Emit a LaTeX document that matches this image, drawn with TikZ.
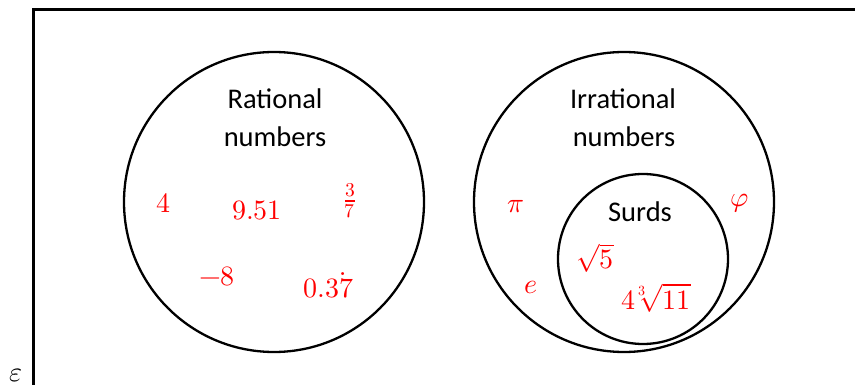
\documentclass[tikz,border=0pt]{standalone}
\usepackage{unicode-math}
\setmainfont{Carlito}
\setmathfont{Latin Modern Math}
\begin{document}
\begin{tikzpicture}[x=1pt,y=-1pt,
  lab/.style={font=\fontsize{28.5}{34}\selectfont, inner sep=0pt, anchor=base},
  num/.style={text=red, font=\fontsize{28}{34}\selectfont, inner sep=0pt, anchor=base},
  ring/.style={circle, draw, line width=2.3pt, inner sep=0pt}]
\useasboundingbox (0,0) rectangle (855,385);
\clip (0,0) rectangle (855,385);
% universal set frame (cut by the picture's right and bottom edges)
\draw[line width=2.7pt] (33.7,9.3) rectangle (900,430);
\node[num, text=black] (eps) at (16,381) {$\varepsilon$};
% sets
\node[ring, minimum size=300pt] (rat) at (274,202) {};
\node[ring, minimum size=300pt] (irr) at (624,202) {};
\node[ring, minimum size=170pt] (surd) at (643,259) {};
% set labels
\node[lab] (ratA) at (275,109) {Rational};
\node[lab] (ratB) at (275,147) {numbers};
\node[lab] (irrA) at (623,109) {Irrational};
\node[lab] (irrB) at (624,147) {numbers};
\node[lab] (surdA) at (640,222) {Surds};
% rational members
\node[num] (n4) at (163,213) {$4$};
\node[num] (n951) at (257,220) {$9.51$};
\node[num, anchor=center] (n37) at (350,201) {$\frac{3}{7}$};
\node[num] (nm8) at (217,285) {$-8$};
\node[num] (nrec) at (329,298) {$0.3\dot{7}$};
% irrational members
\node[num] (npi) at (516,213) {$\pi$};
\node[num] (nphi) at (740,207) {$\varphi$};
\node[num] (ne) at (531,294) {$e$};
\node[num] (nsq5) at (595,269) {$\sqrt{5}$};
\node[num] (ncb) at (656,309) {$4\sqrt[3]{11}$};
\end{tikzpicture}
\end{document}
